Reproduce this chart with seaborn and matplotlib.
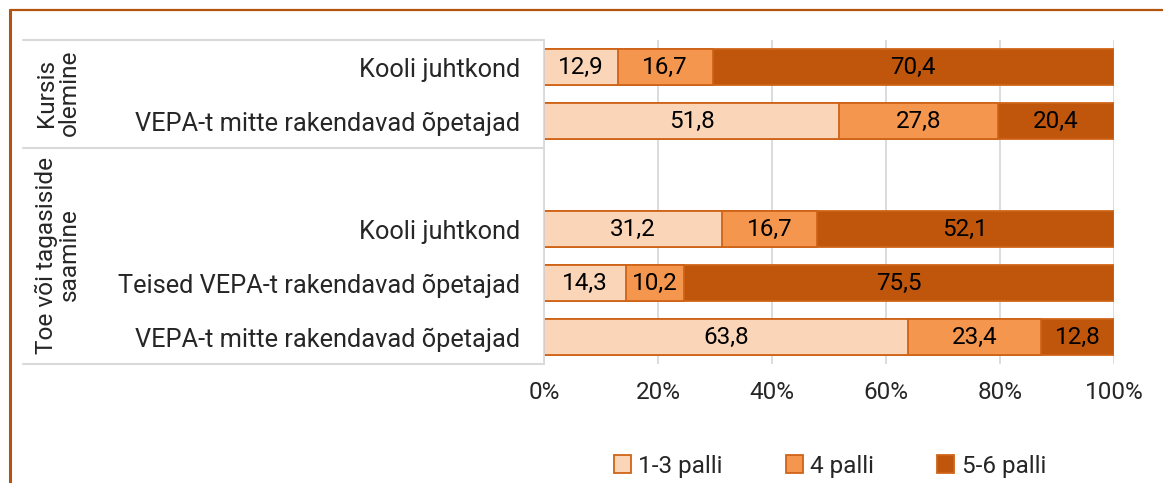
import matplotlib
matplotlib.use("Agg")
import matplotlib.pyplot as plt
import seaborn as sns
import pandas as pd
import numpy as np
from matplotlib.patches import Patch
from matplotlib.lines import Line2D

# ---- data ----
row_keys = ["k1", "k2", "gap", "t1", "t2", "t3"]
row_labels = ["Kooli juhtkond", "VEPA-t mitte rakendavad õpetajad", "",
              "Kooli juhtkond", "Teised VEPA-t rakendavad õpetajad",
              "VEPA-t mitte rakendavad õpetajad"]
data_keys = ["k1", "k2", "t1", "t2", "t3"]
s_low = [12.9, 51.8, 31.2, 14.3, 63.8]
s_mid = [16.7, 27.8, 16.7, 10.2, 23.4]
s_high = [70.4, 20.4, 52.1, 75.5, 12.8]
series_names = ["1-3 palli", "4 palli", "5-6 palli"]
group_names = ["Kursis\nolemine", "Toe või tagasiside\nsaamine"]
x_ticks = [0, 20, 40, 60, 80, 100]

colors = ["#FBD5B8", "#F4964E", "#C0560B"]
edge = "#CF6418"
frame_col = "#B4540F"
grid_col = "#D9D9D9"

sns.set_theme(style="white")
plt.rcParams["font.family"] = ["Roboto", "DejaVu Sans"]
FS = 17.5
FS_LAB = 18.3
FS_GRP = 17.6

df = pd.DataFrame({"row": data_keys, "low": s_low, "mid": s_mid, "high": s_high})
df["c1"] = df["low"]
df["c2"] = df["low"] + df["mid"]
df["c3"] = df["low"] + df["mid"] + df["high"]

fig = plt.figure(figsize=(11.63, 4.83), dpi=100)
ax = fig.add_axes([544/1163, 1 - 364/483, (1114-544)/1163, (364-40)/483])

for col, c in zip(["c3", "c2", "c1"], colors[::-1]):
    sns.barplot(data=df, x=col, y="row", order=row_keys, orient="h", color=c,
                saturation=1, width=0.67, edgecolor=edge, linewidth=1.3, ax=ax)

# value labels
for _, r in df.iterrows():
    y = row_keys.index(r["row"])
    starts = [0, r["c1"], r["c2"]]
    for st, v in zip(starts, [r["low"], r["mid"], r["high"]]):
        ax.text(st + v / 2, y, f"{v:.1f}".replace(".", ","), ha="center", va="center",
                fontsize=FS, color="black")

ax.set_xlim(0, 100)
ax.set_ylim(len(row_keys) - 0.5, -0.5)
ax.set_xticks(x_ticks)
ax.set_xticklabels([f"{t}%" for t in x_ticks], fontsize=FS)
ax.set_yticks(range(len(row_keys)))
ax.set_yticklabels(row_labels, fontsize=FS_LAB)
ax.tick_params(axis="y", length=0, pad=17)
ax.tick_params(axis="x", length=0, pad=12)
ax.set_xlabel("")
ax.set_ylabel("")
ax.xaxis.grid(True, color=grid_col, linewidth=1.3)
ax.set_axisbelow(True)
for s in ["top", "right", "bottom"]:
    ax.spines[s].set_visible(False)
ax.spines["left"].set_color(grid_col)
ax.spines["left"].set_linewidth(1.3)

# table separators and group labels
trans = ax.get_yaxis_transform()
x0 = (23 - 544) / (1114 - 544)
for yv in [-0.5, 1.5, 5.5]:
    ax.add_line(Line2D([x0, 0], [yv, yv], transform=trans, color=grid_col,
                       linewidth=1.5, clip_on=False))
ax.text(58/1163, 1 - 93/483, group_names[0], transform=fig.transFigure, rotation=90,
        ha="center", va="center", fontsize=FS_GRP, linespacing=1.0)
ax.text(58/1163, 1 - 255/483, group_names[1], transform=fig.transFigure, rotation=90,
        ha="center", va="center", fontsize=FS_GRP, linespacing=1.0)

# outer frame (top and left)
fig.add_artist(Line2D([10/1163, 1], [1 - 10/483, 1 - 10/483], transform=fig.transFigure,
                      color=frame_col, linewidth=1.6))
fig.add_artist(Line2D([10/1163, 10/1163], [0, 1 - 10/483], transform=fig.transFigure,
                      color=frame_col, linewidth=2.2))

handles = [Patch(facecolor=c, edgecolor=edge, linewidth=1.3) for c in colors]
fig.legend(handles, series_names, loc="center", bbox_to_anchor=(830/1163, 1 - 466/483),
           ncol=3, frameon=False, fontsize=FS, handlelength=0.7, handleheight=0.7,
           handletextpad=0.3, columnspacing=2.6)

fig.savefig("out.png", dpi=100)
